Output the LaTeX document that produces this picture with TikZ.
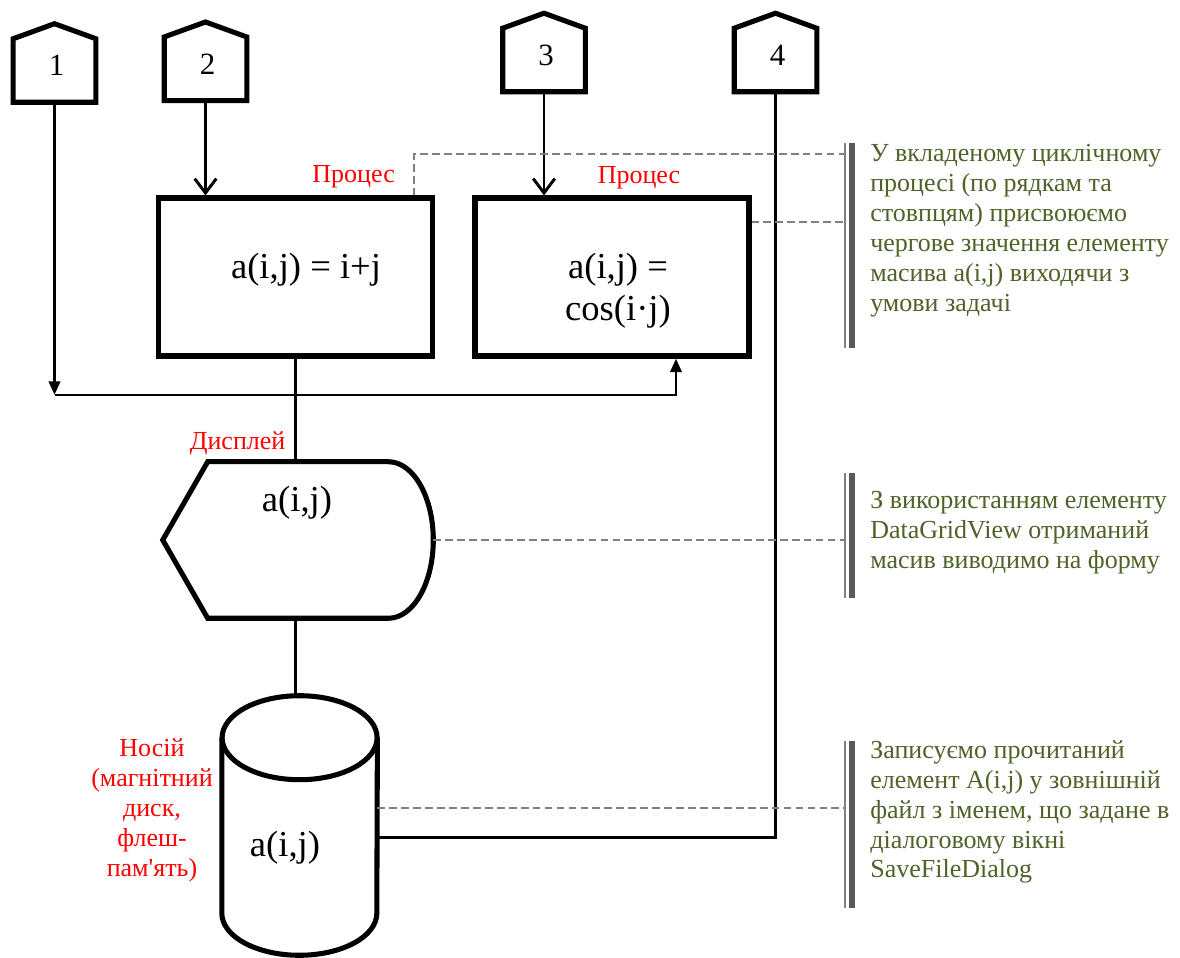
\documentclass[tikz,border=0pt]{standalone}
\usepackage{fontspec}
\setmainfont{Liberation Serif}
\usepackage{tikz}
\usetikzlibrary{arrows.meta}
\definecolor{noteolive}{HTML}{4F6228}
\definecolor{notebar}{HTML}{595959}
\definecolor{notegrey}{HTML}{808080}
\tikzset{
  shapeline/.style={line width=3.6pt, black},
  flowline/.style={line width=2.1pt, black},
  noteline/.style={line width=1pt, notegrey, dash pattern=on 5.5pt off 3pt},
  maintext/.style={font=\fontsize{26}{30}\selectfont, align=center, inner sep=0pt},
  numtext/.style={font=\fontsize{22}{26}\selectfont},
  redlabel/.style={font=\fontsize{18.5}{21.3}\selectfont, text=red, align=center, inner sep=0pt},
  notetext/.style={font=\fontsize{18.5}{21.3}\selectfont, text=noteolive, align=left, inner sep=0pt, anchor=west},
  procbox/.style={draw, shapeline, minimum width=6.85cm, minimum height=3.95cm, inner sep=0pt},
  conbody/.style={minimum width=2.05cm, minimum height=1.575cm, inner sep=0pt},
  notebracket/.style={minimum width=0.175cm, inner sep=0pt},
  barbtip/.style={-{Straight Barb[length=3.6mm, width=5.4mm]}},
  filltip/.style={-{Triangle[length=3.4mm, width=2.8mm]}}
}
\begin{document}
\begin{tikzpicture}
\useasboundingbox (0,0) rectangle (29.5,23.925);

\foreach \n/\x/\y in {1/1.3625/22.1625, 2/5.1375/22.206, 3/13.6/22.425, 4/19.3875/22.425} {
  \node[conbody] (c\n) at (\x,\y) {};
  \draw[shapeline] (c\n.north west) -- ([yshift=0.375cm]c\n.north) -- (c\n.north east) -- (c\n.south east) -- (c\n.south west) -- cycle;
  \node[numtext] (c\n txt) at ([xshift=0.05cm, yshift=0.12cm]c\n.center) {\n};
}

\node[procbox] (proc1) at (7.39,17.0) {};
\node[maintext] (proc1txt) at (7.65,17.175) {a(i,j) = i+j};
\node[procbox] (proc2) at (15.3,17.0) {};
\node[maintext] (proc2txt) at (15.45,16.65) {a(i,j) =\\cos(i·j)};
\node[redlabel] (proclab1) at (8.84,19.5) {Процес};
\node[redlabel] (proclab2) at (15.975,19.475) {Процес};

\node[minimum width=6.75cm, minimum height=3.9cm, inner sep=0pt] (disp) at (7.45,10.425) {};
\draw[shapeline] (disp.west) -- ([xshift=1.125cm]disp.north west) -- ([xshift=-1.125cm]disp.north east)
  .. controls ([xshift=-0.5cm]disp.north east) and ([yshift=1.08cm]disp.east) .. (disp.east)
  .. controls ([yshift=-1.08cm]disp.east) and ([xshift=-0.5cm]disp.south east) .. ([xshift=-1.125cm]disp.south east)
  -- ([xshift=1.125cm]disp.south west) -- cycle;
\node[maintext] (disptxt) at (7.425,11.35) {a(i,j)};
\node[redlabel] (displab) at (5.94,12.85) {Дисплей};

\node[minimum width=3.875cm, minimum height=6.475cm, inner sep=0pt] (disk) at (7.49,3.2875) {};
\draw[shapeline] ([yshift=-1.05cm]disk.north) ellipse [x radius=1.9375cm, y radius=1.05cm];
\draw[shapeline] ([yshift=-1.05cm]disk.north west) -- ([yshift=1.05cm]disk.south west)
  arc [start angle=180, end angle=360, x radius=1.9375cm, y radius=1.05cm] -- ([yshift=-1.05cm]disk.north east);
\node[maintext] (disktxt) at (7.125,2.725) {a(i,j)};
\node[redlabel] (disklab) at (3.8,3.675) {Носій\\(магнітний\\диск,\\флеш-\\пам\textquotesingle ять)};

\coordinate (jn) at (1.4,14.05);
\draw[flowline, filltip] (c1.south) -- (c1.south |- jn);
\draw[flowline, filltip] (c1.south |- jn) -| ([xshift=1.6cm]proc2.south);
\draw[flowline, barbtip] (c2.south) -- (c2.south |- proc1.north);
\draw[flowline, barbtip] (c3.south) -- (c3.south |- proc2.north);
\draw[flowline] (proc1.south) -- (proc1.south |- disp.north);
\draw[flowline] (proc1.south |- disp.south) -- (proc1.south |- disk.north);
\draw[flowline] (c4.south) |- ([yshift=-0.31cm]disk.east);

\node[notebracket, minimum height=5.125cm] (br1) at (21.2125,17.7875) {};
\node[notebracket, minimum height=3.125cm] (br2) at (21.2125,10.5375) {};
\node[notebracket, minimum height=4.175cm] (br3) at (21.2125,3.3125) {};
\foreach \b in {br1,br2,br3} {
  \draw[line width=1.4pt, notegrey] (\b.north west) -- (\b.south west);
  \draw[line width=4pt, notebar] (\b.north east) -- (\b.south east);
}

\coordinate (n1) at (10.35,20.075);
\draw[noteline] (proc1.north -| n1) -- (n1) -- (n1 -| br1.west);
\draw[noteline] ([yshift=1.375cm]proc2.east) coordinate (n2) -- (n2 -| br1.west);
\draw[noteline] (disp.east) -- (disp.east -| br2.west);
\draw[noteline] ([yshift=0.44cm]disk.east) coordinate (n3) -- (n3 -| br3.west);

\node[notetext] (note1) at (21.75,18.15) {У вкладеному циклічному\\процесі (по рядкам та\\стовпцям) присвоюємо\\чергове значення елементу\\масива a(i,j) виходячи з\\умови задачі};
\node[notetext] (note2) at (21.75,10.6) {З використанням елементу\\DataGridView отриманий\\масив виводимо на форму};
\node[notetext] (note3) at (21.75,3.625) {Записуємо прочитаний\\елемент A(i,j) у зовнішній\\файл з іменем, що задане в\\діалоговому вікні\\SaveFileDialog};
\end{tikzpicture}
\end{document}
